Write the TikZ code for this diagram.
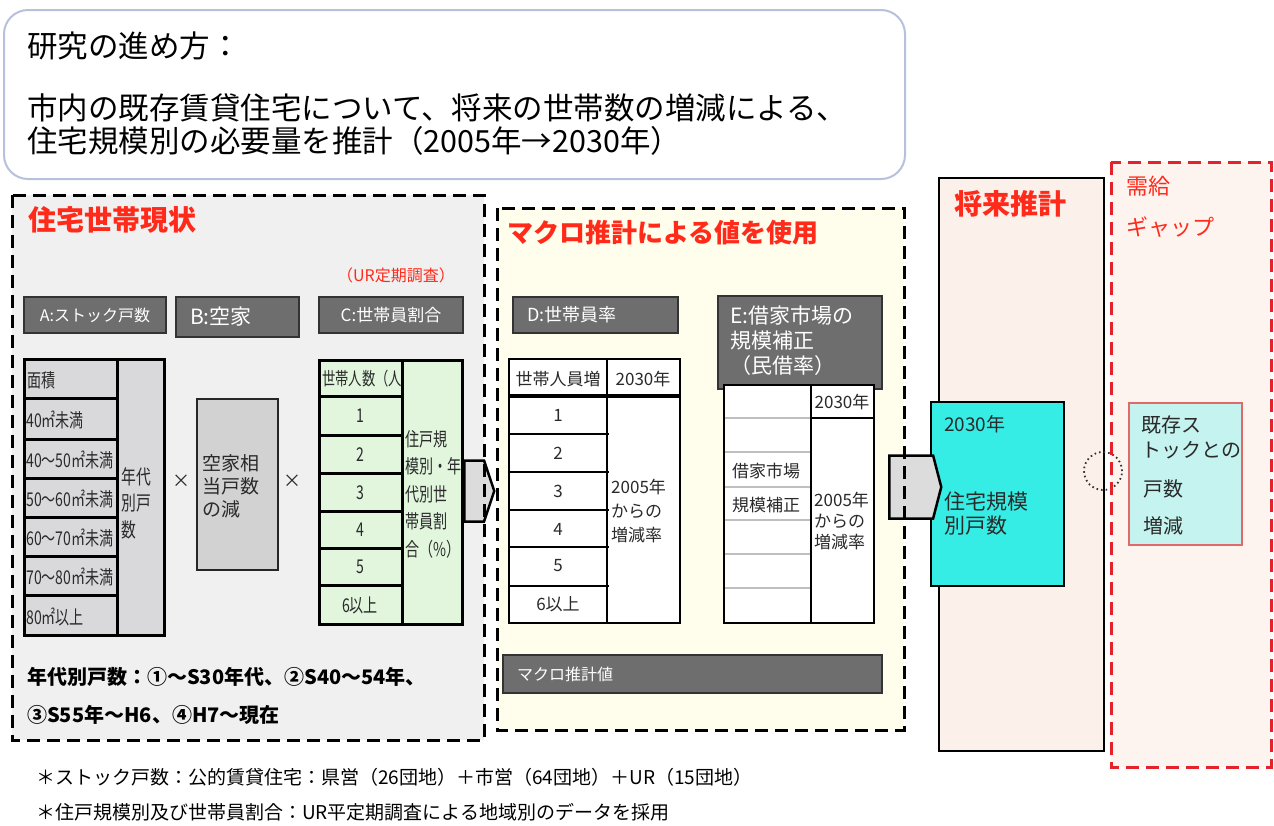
\documentclass[tikz,border=0pt]{standalone}
\usepackage{fontspec}
\setmainfont{Noto Sans CJK JP}
\newfontfamily\nar[FakeStretch=0.74]{Noto Sans CJK JP}
\usetikzlibrary{shapes.symbols,fit}
\definecolor{hdrgray}{HTML}{6E6E6E}
\definecolor{lgray}{HTML}{F0F0F0}
\definecolor{cream}{HTML}{FFFDEC}
\definecolor{peach}{HTML}{FCF0EA}
\definecolor{peachb}{HTML}{FDF3EF}
\definecolor{agray}{HTML}{D9D9DB}
\definecolor{bgray}{HTML}{D2D2D2}
\definecolor{cgreen}{HTML}{E1F6DD}
\definecolor{chev}{HTML}{DCDCDC}
\definecolor{cyanbox}{HTML}{35EDE5}
\definecolor{gapfill}{HTML}{C5F3EF}
\definecolor{gapbd}{HTML}{E06A6A}
\definecolor{redt}{HTML}{FF2A1A}
\definecolor{reddash}{HTML}{E4222B}
\definecolor{topbd}{HTML}{B7C1DB}
\definecolor{dtext}{HTML}{2A2A2A}
\newcommand{\fs}[2]{\fontsize{#1}{#2}\selectfont}
\tikzset{
  area/.style={inner sep=0pt, outer sep=0pt},
  hdr/.style={area, draw=black!80, line width=1.5pt, fill=hdrgray},
  txt/.style={inner sep=0pt, anchor=west, text=dtext},
  wtxt/.style={inner sep=0pt, anchor=west, text=white},
  ctxt/.style={inner sep=0pt, anchor=center, text=dtext},
  tb/.style={line width=3pt, line cap=rect},
  dsh/.style={line width=3pt, dash pattern=on 13pt off 7pt},
  rdsh/.style={line width=3pt, dash pattern=on 13pt off 7pt, draw=reddash},
  chevron/.style={signal, signal to=east, draw=black, line width=2.5pt, fill=chev, inner sep=0pt, anchor=west},
}
\begin{document}
\begin{tikzpicture}[x=1pt,y=-1pt]
\useasboundingbox (0,0) rectangle (1274,825);
\fill[white] (0,0) rectangle (1274,825);

% ---- top box
\node[area, fit={(4,10) (905,179)}, draw=topbd, line width=2pt, rounded corners=24pt, fill=white] (top) {};
\node[txt, text=black, font=\fs{30.5}{36}] (q1) at (27,46) {研究の進め方：};
\node[txt, text=black, font=\fs{30.5}{36}] (q2) at (27,108) {市内の既存賃貸住宅について、将来の世帯数の増減による、};
\node[txt, text=black, font=\fs{30.5}{36}] (q3) at (27,141) {住宅規模別の必要量を推計（2005年→2030年）};

% ---- area fills
\node[area, fit={(12,195) (484,740)}, fill=lgray] (L) {};
\node[area, fit={(497,208) (904,730)}, fill=cream] (M) {};
\node[area, fit={(939,178) (1104,751)}, fill=peach, draw=black, line width=2.5pt] (F) {};
\node[area, fit={(1111,162) (1271,767)}, fill=peachb] (G) {};

% ---- titles
\node[txt, text=redt, font=\fs{28}{34}\bfseries] (tL) at (28,220) {住宅世帯現状};
\node[txt, text=redt, font=\fs{16}{20}] (ur) at (337,275) {（UR定期調査）};
\node[txt, text=redt, font=\fs{26}{32}\bfseries] (tM) at (507,233) {マクロ推計による値を使用};
\node[txt, text=redt, font=\fs{28}{34}\bfseries] (tF) at (954,204) {将来推計};
\node[txt, text=redt, font=\fs{22}{26}] (tG1) at (1126,186) {需給};
\node[txt, text=redt, font=\fs{22}{26}] (tG2) at (1126,227) {ギャップ};

% ---- headers
\node[hdr, fit={(24,297) (166,333)}] (hA) {};
\node[wtxt, anchor=center, font=\fs{16}{20}] at (hA.center) {A:ストック戸数};
\node[hdr, fit={(176,297) (299,337)}] (hB) {};
\node[wtxt, font=\fs{21}{25}] at ([xshift=14pt]hB.west) {B:空家};
\node[hdr, fit={(319,297) (463,333)}] (hC) {};
\node[wtxt, anchor=center, font=\fs{17}{20}] at (hC.center) {C:世帯員割合};
\node[hdr, fit={(513,297) (678,333)}] (hD) {};
\node[wtxt, font=\fs{18}{22}] at ([xshift=14pt]hD.west) {D:世帯員率};
\node[hdr, fit={(718,296) (882,389)}] (hE) {};
\node[wtxt, font=\fs{21}{25}, align=left, anchor=north west] at (730,306) {E:借家市場の\\規模補正\\（民借率）};

% ---- table A
\node[area, fit={(24,359) (164,635)}, fill=agray] (TA) {};
\draw[tb] (TA.north west) rectangle (TA.south east);
\draw[tb] (117,359) -- (117,635);
\foreach \yy in {398,439,478,517,556,595} \draw[tb] (24,\yy) -- (117,\yy);
\node[txt, font=\nar\fs{19}{20}] at (27,380) {面積};
\node[txt, font=\nar\fs{19}{20}] at (26,420) {40㎡未満};
\node[txt, font=\nar\fs{19}{20}] at (26,460) {40～50㎡未満};
\node[txt, font=\nar\fs{19}{20}] at (26,499) {50～60㎡未満};
\node[txt, font=\nar\fs{19}{20}] at (26,538) {60～70㎡未満};
\node[txt, font=\nar\fs{19}{20}] at (26,577) {70～80㎡未満};
\node[txt, font=\nar\fs{19}{20}] at (26,617) {80㎡以上};
\node[txt, font=\nar\fs{20}{26.5}, align=left] at (121,503) {年代\\別戸\\数};

% ---- multiply signs & B box
\node[ctxt, font=\fs{18}{20}] (x1) at (181,481) {×};
\node[ctxt, font=\fs{18}{20}] (x2) at (292,481) {×};
\node[area, fit={(197,399) (278,570)}, fill=bgray, draw=black!85, line width=2pt] (TB) {};
\node[txt, font=\fs{19}{23}, align=left] at (202,486) {空家相\\当戸数\\の減};

% ---- table C
\node[area, fit={(319,360) (462,624)}, fill=cgreen] (TC) {};
\draw[tb] (TC.north west) rectangle (TC.south east);
\draw[tb] (402,360) -- (402,624);
\foreach \yy in {396,435,473,511,548,585} \draw[tb] (319,\yy) -- (402,\yy);
\node[txt, font=\nar\fs{18}{20}] at (322,379) {世帯人数（人};
\node[ctxt, font=\nar\fs{19}{20}] at (360,416) {1};
\node[ctxt, font=\nar\fs{19}{20}] at (360,455) {2};
\node[ctxt, font=\nar\fs{19}{20}] at (360,493) {3};
\node[ctxt, font=\nar\fs{19}{20}] at (360,530) {4};
\node[ctxt, font=\nar\fs{19}{20}] at (360,567) {5};
\node[ctxt, font=\nar\fs{19}{20}] at (360,605) {6以上};
\node[txt, font=\nar\fs{19}{27.5}, align=left] at (405,494) {住戸規\\模別・年\\代別世\\帯員割\\合（\%）};

% ---- table D
\node[area, fit={(509,359) (680,623)}, fill=white] (TD) {};
\draw[line width=2pt] (TD.north west) rectangle (TD.south east);
\draw[line width=2pt] (607,359) -- (607,623);
\draw[line width=3.5pt] (509,396) -- (680,396);
\foreach \yy in {434,472,510,547,586} \draw[line width=1.6pt] (509,\yy) -- (609,\yy);
\node[ctxt, font=\fs{17}{20}] at (558,379) {世帯人員増};
\node[ctxt, font=\fs{17}{20}] at (643,379) {2030年};
\node[ctxt, font=\fs{17}{20}] at (558,415) {1};
\node[ctxt, font=\fs{17}{20}] at (558,453) {2};
\node[ctxt, font=\fs{17}{20}] at (558,491) {3};
\node[ctxt, font=\fs{17}{20}] at (558,529) {4};
\node[ctxt, font=\fs{17}{20}] at (558,566) {5};
\node[ctxt, font=\fs{17}{20}] at (558,604) {6以上};
\node[txt, font=\fs{17}{24}, align=left] at (611,511) {2005年\\からの\\増減率};

% ---- table E
\node[area, fit={(724,385) (874,623)}, fill=white] (TE) {};
\foreach \yy in {418,452,487,520,554,588} \draw[line width=1.2pt, black!25] (724,\yy) -- (811,\yy);
\draw[line width=1.6pt] (TE.north west) rectangle (TE.south east);
\draw[line width=2.5pt] (811,385) -- (811,623);
\draw[line width=2.5pt] (811,418) -- (874,418);
\node[ctxt, font=\fs{17}{20}] at (842,402) {2030年};
\node[txt, font=\fs{17}{20}] at (732,471) {借家市場};
\node[txt, font=\fs{17}{20}] at (732,505) {規模補正};
\node[txt, font=\fs{17}{21}, align=left] at (814,521) {2005年\\からの\\増減率};

% ---- macro bar
\node[hdr, fit={(503,655) (882,693)}] (mb) {};
\node[wtxt, font=\fs{16}{20}] at ([xshift=14pt]mb.west) {マクロ推計値};

% ---- bottom-left notes
\node[txt, text=black, font=\fs{20}{23}\bfseries] (yn1) at (27,677) {年代別戸数：①～S30年代、②S40～54年、};
\node[txt, text=black, font=\fs{20}{23}\bfseries] (yn2) at (27,715) {③S55年～H6、④H7～現在};

% ---- future box contents
\node[area, fit={(931,402) (1064,586)}, fill=cyanbox, draw=black, line width=2pt] (CY) {};
\node[txt, font=\fs{19}{22}] at (944,424) {2030年};
\node[txt, font=\fs{21}{24}, align=left] at (944,514) {住宅規模\\別戸数};

% ---- gap box
\node[area, fit={(1129,403) (1242,545)}, fill=gapfill, draw=gapbd, line width=1.5pt] (GB) {};
\node[txt, font=\fs{20}{25}, align=left] at (1141,437) {既存ス\\トックとの};
\node[txt, font=\fs{20}{24}] at (1143,489) {戸数};
\node[txt, font=\fs{20}{24}] at (1143,526) {増減};
\node[circle, draw=black!80, minimum size=38pt, inner sep=0pt, dash pattern=on 1.6pt off 3pt, line width=1.8pt] (cyc) at (1103,471) {};

% ---- chevrons
\node[chevron, minimum width=30pt, minimum height=61pt, signal pointer angle=143] (ar1) at (463,491) {};
\node[chevron, minimum width=52pt, minimum height=63pt, signal pointer angle=151] (ar2) at (888,487) {};

% ---- dashed borders on top
\draw[dsh] (L.north west) rectangle (L.south east);
\draw[dsh] (M.north west) rectangle (M.south east);
\draw[rdsh] (G.north west) rectangle (G.south east);

% ---- footer
\node[txt, text=black, font=\fs{19}{22}] (n1) at (36,777) {＊ストック戸数：公的賃貸住宅：県営（26団地）＋市営（64団地）＋UR（15団地）};
\node[txt, text=black, font=\fs{19}{22}] (n2) at (36,812) {＊住戸規模別及び世帯員割合：UR平定期調査による地域別のデータを採用};
\end{tikzpicture}
\end{document}
